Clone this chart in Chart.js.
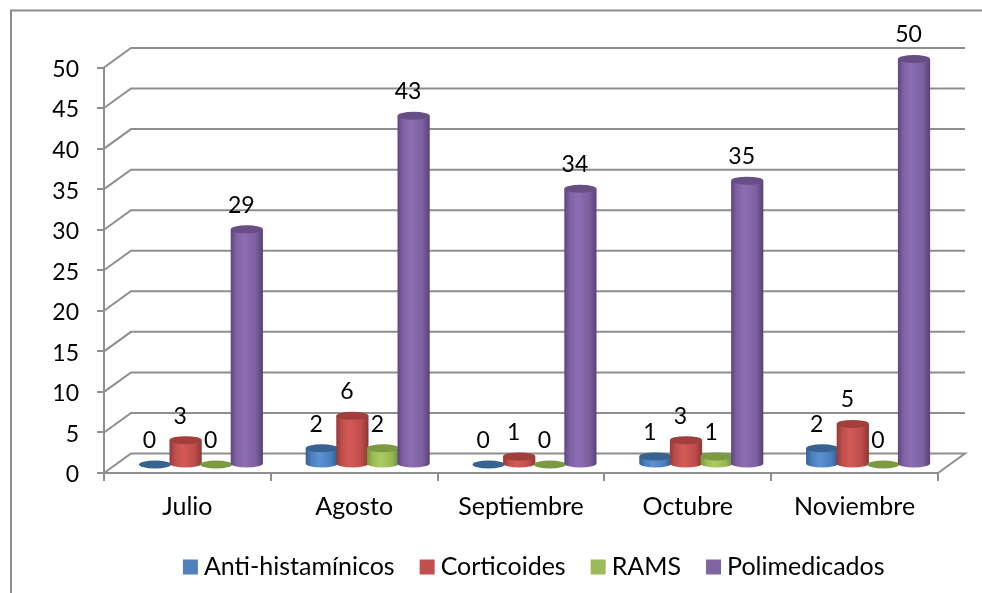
<!DOCTYPE html>
<html><head><meta charset="utf-8">
<style>html,body{margin:0;padding:0;background:#fff}canvas{display:block}</style>
<script src="https://cdn.jsdelivr.net/npm/chart.js@4"></script>
</head><body><canvas id="c" width="982" height="593"></canvas>
<script>
const categories = ["Julio","Agosto","Septiembre","Octubre","Noviembre"];
const antiHistaminicos = [0,2,0,1,2];
const corticoides = [3,6,1,3,5];
const rams = [0,2,0,1,0];
const polimedicados = [29,43,34,35,50];
const seriesNames = ["Anti-histamínicos","Corticoides","RAMS","Polimedicados"];
const seriesValues = [antiHistaminicos,corticoides,rams,polimedicados];
const seriesColors = ["#4f81bd","#c0504d","#9bbb59","#8064a2"];
const bodyShades = [
  ["#31609a","#4a7fbe","#5b91d2","#4a7fbe","#2f5a8e"],
  ["#94393a","#c04f4c","#d45a57","#bd4d4a","#8b3533"],
  ["#76963c","#98b956","#abcc60","#97b755","#6f8d37"],
  ["#5d4680","#7f62a3","#8d6eb3","#7c60a0","#574176"]
];
const topColors = ["#36638f","#a23e3c","#7c9a40","#674f85"];
const gridColor = "#8e8e8e";
const fontFamily = "Lato, Carlito, sans-serif";
const digitSize = 23, textSize = 25;
const depthX = 27, depthY = 19.5, barLift = 8.5, capRy = 4, legendShift = 68;

function drawCylinder(ctx, el, i) {
  const cx = el.x + 13.5, rx = el.width / 2 + 0.8;
  const yTop = el.y - barLift, yBase = el.base - barLift;
  if (yBase - yTop > 0.5) {
    const g = ctx.createLinearGradient(cx - rx, 0, cx + rx, 0);
    const s = bodyShades[i];
    g.addColorStop(0, s[0]); g.addColorStop(0.18, s[1]); g.addColorStop(0.42, s[2]);
    g.addColorStop(0.78, s[3]); g.addColorStop(1, s[4]);
    ctx.fillStyle = g;
    ctx.beginPath();
    ctx.moveTo(cx - rx, yTop);
    ctx.lineTo(cx - rx, yBase);
    ctx.ellipse(cx, yBase, rx, capRy, 0, Math.PI, 0, true);
    ctx.lineTo(cx + rx, yTop);
    ctx.closePath();
    ctx.fill();
  }
  ctx.fillStyle = topColors[i];
  ctx.beginPath();
  ctx.ellipse(cx, yTop, rx, capRy, 0, 0, Math.PI * 2);
  ctx.fill();
}

const wallPlugin = {
  id: "cylinders3d",
  afterLayout(chart) {
    chart.legend.left += legendShift;
    chart.legend.right += legendShift;
  },
  beforeDraw(chart) {
    const ctx = chart.ctx;
    ctx.save();
    ctx.strokeStyle = "#8c8c8c";
    ctx.lineWidth = 2;
    ctx.beginPath();
    ctx.moveTo(11, 593); ctx.lineTo(11, 10.5); ctx.lineTo(982, 10.5);
    ctx.stroke();
    ctx.restore();
  },
  beforeDatasetsDraw(chart) {
    const ctx = chart.ctx, y = chart.scales.y, x = chart.scales.x;
    const L = x.left, R = x.right;
    ctx.save();
    ctx.strokeStyle = gridColor;
    ctx.lineWidth = 2;
    y.ticks.forEach(t => {
      const py = y.getPixelForValue(t.value);
      ctx.beginPath();
      ctx.moveTo(L, py);
      ctx.lineTo(L + depthX, py - depthY);
      ctx.lineTo(R + depthX, py - depthY);
      if (t.value === 0) ctx.lineTo(R, py);
      ctx.stroke();
    });
    chart.data.datasets.forEach((d, i) => {
      chart.getDatasetMeta(i).data.forEach(el => drawCylinder(ctx, el, i));
    });
    ctx.fillStyle = "#000";
    ctx.font = digitSize + "px " + fontFamily;
    ctx.textAlign = "center";
    ctx.textBaseline = "middle";
    chart.data.datasets.forEach((d, i) => {
      chart.getDatasetMeta(i).data.forEach((el, k) => {
        ctx.fillText(String(d.data[k]), el.x + 8, el.y - barLift - 24);
      });
    });
    ctx.restore();
    return false;
  }
};

new Chart(document.getElementById("c"), {
  type: "bar",
  data: {
    labels: categories,
    datasets: seriesNames.map((n, i) => ({
      label: n, data: seriesValues[i], backgroundColor: seriesColors[i],
      categoryPercentage: 0.734, barPercentage: 1
    }))
  },
  plugins: [wallPlugin],
  options: {
    responsive: false, animation: false, devicePixelRatio: 1,
    layout: { padding: { left: 0, right: 44, top: 67.5, bottom: 3.5 } },
    plugins: {
      tooltip: { enabled: false },
      title: { display: false },
      legend: {
        position: "bottom",
        labels: {
          color: "#000", font: { family: fontFamily, size: textSize },
          usePointStyle: true, pointStyle: "rect", boxWidth: 2, boxHeight: 15, padding: 31.5,
          generateLabels(chart) {
            return chart.data.datasets.map((d, i) => ({
              text: d.label, fillStyle: d.backgroundColor, strokeStyle: d.backgroundColor,
              lineWidth: 0, pointStyle: "rect", datasetIndex: i, fontColor: "#000"
            }));
          }
        }
      }
    },
    scales: {
      x: {
        offset: true,
        afterFit(s) { s.height = 50; },
        border: { color: gridColor, width: 2 },
        grid: { display: true, drawOnChartArea: false, drawTicks: true, tickLength: 8, color: gridColor, lineWidth: 2 },
        ticks: { color: "#000", font: { family: fontFamily, size: textSize }, padding: 11, maxRotation: 0, autoSkip: false }
      },
      y: {
        min: 0, max: 50,
        afterFit(s) { s.width = 104; },
        border: { color: gridColor, width: 2 },
        grid: { display: true, drawOnChartArea: false, drawTicks: true, tickLength: 7, color: gridColor, lineWidth: 2 },
        ticks: { stepSize: 5, color: "#000", font: { family: fontFamily, size: digitSize }, padding: 18, labelOffset: 2 }
      }
    }
  }
});
</script></body></html>
